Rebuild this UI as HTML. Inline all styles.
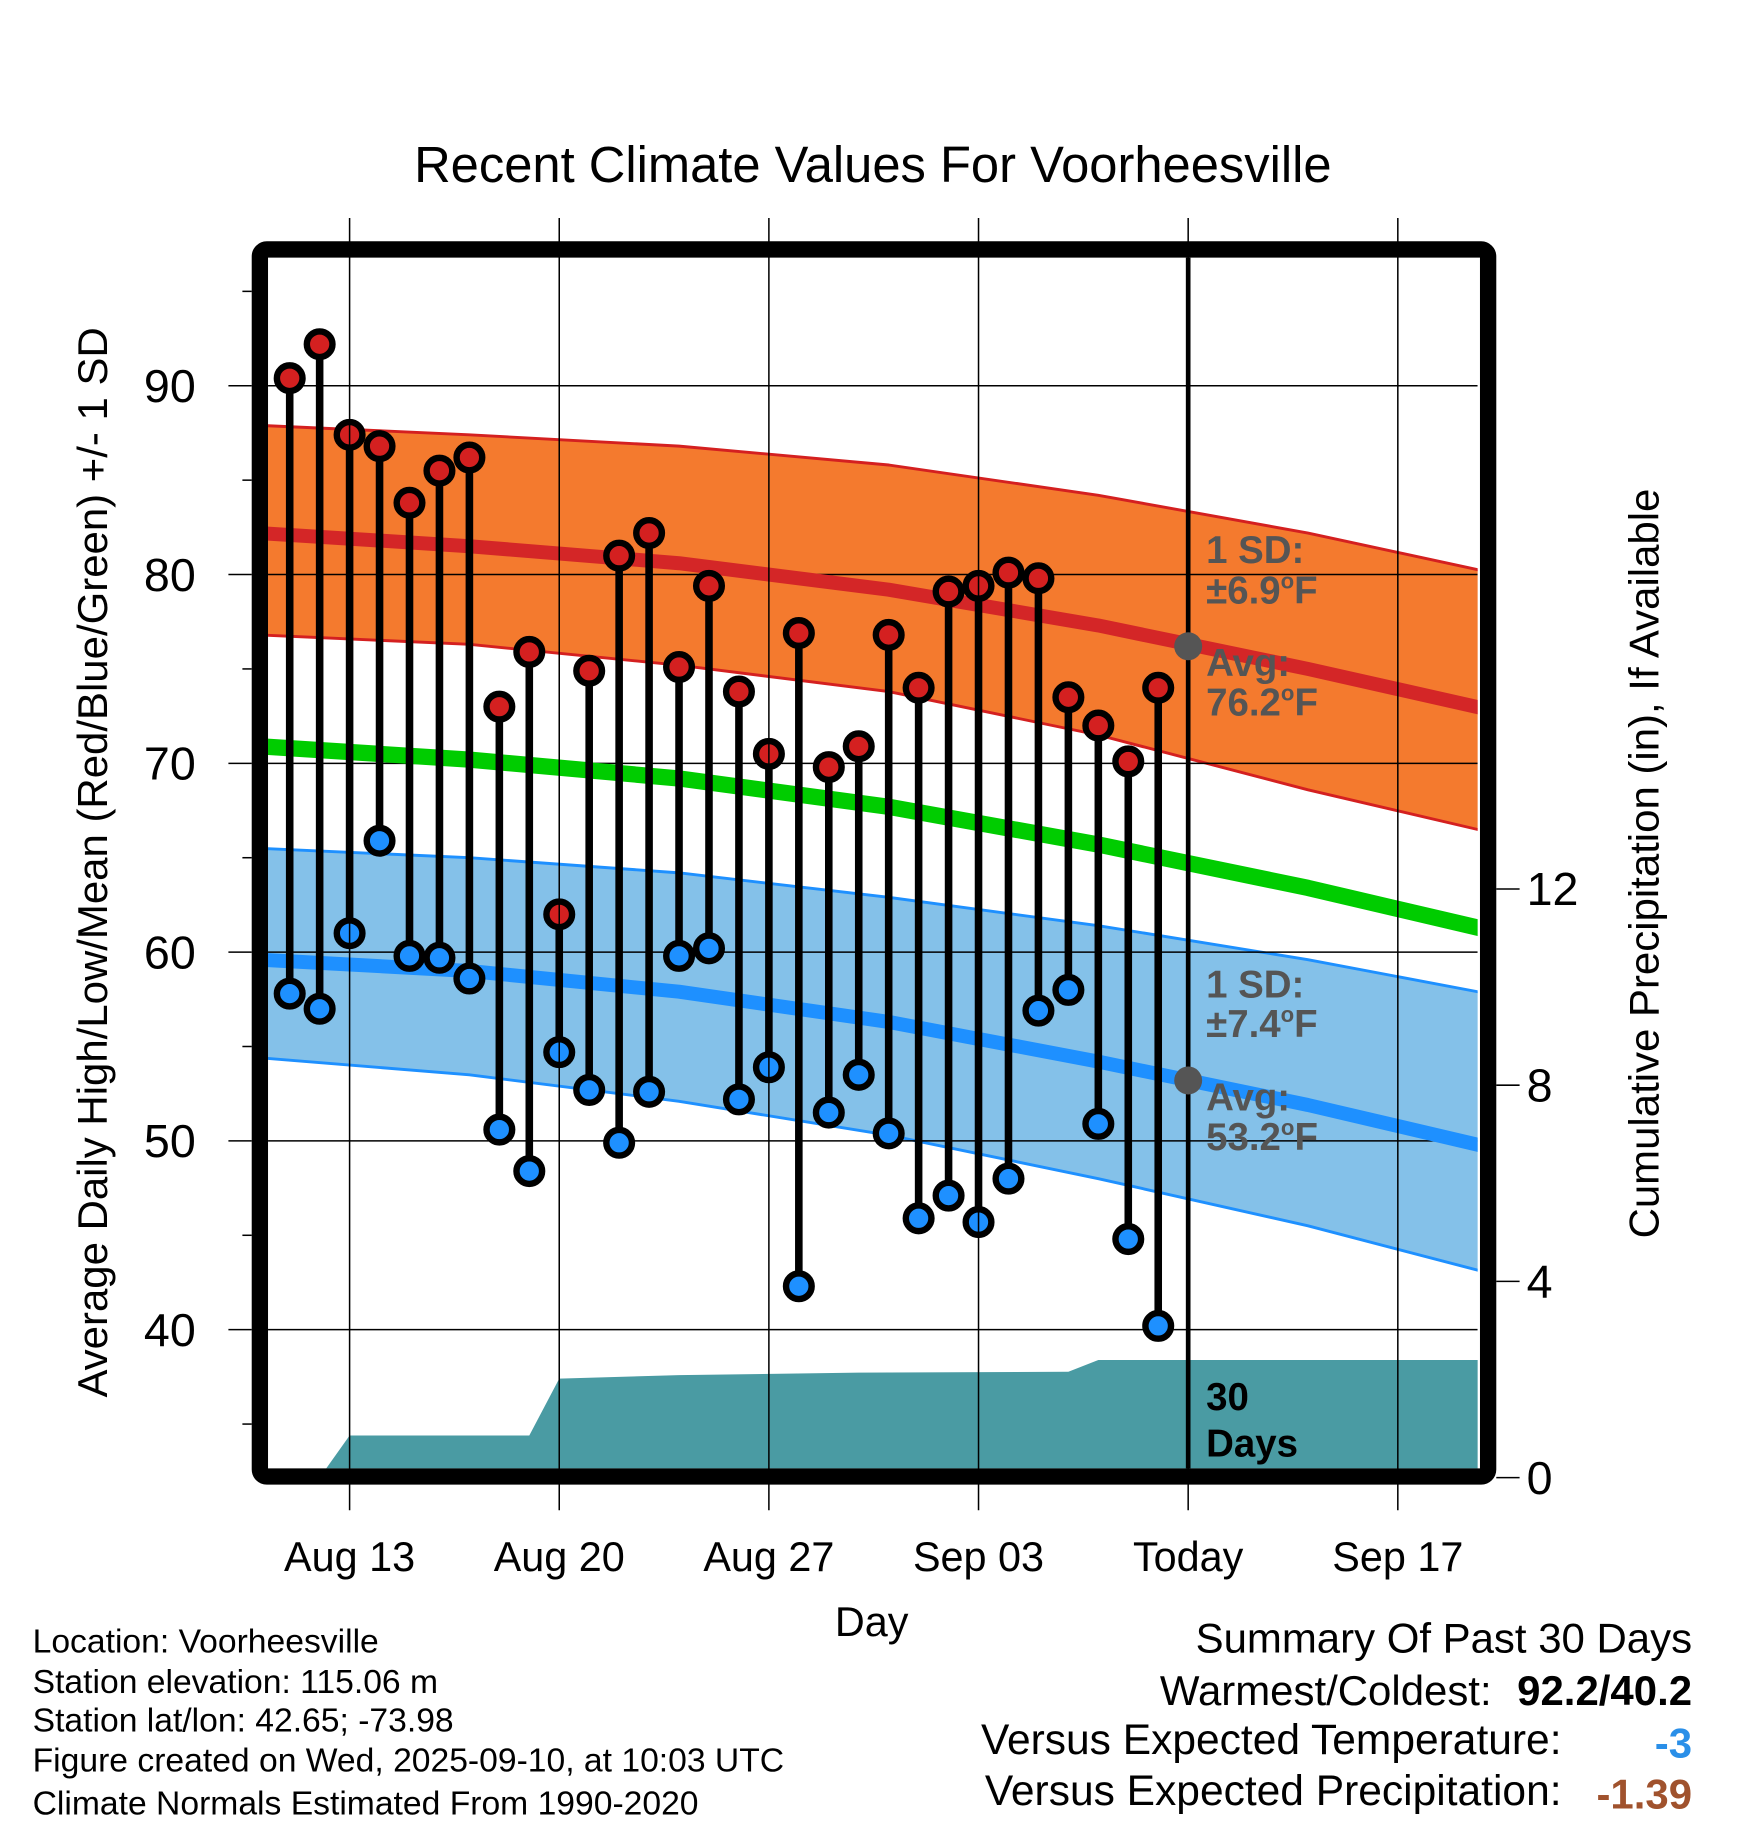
<!DOCTYPE html>
<html><head><meta charset="utf-8"><style>
html,body{margin:0;padding:0;background:#fff;}
svg{display:block;font-family:"Liberation Sans",sans-serif;}
</style></head><body>
<svg id="chart" width="1748" height="1828" viewBox="0 0 1500 1568.6" xmlns="http://www.w3.org/2000/svg">
<g id="layer"></g>
</svg>
<script>
// ---- data ----
const dayLabels = ["Aug 13","Aug 20","Aug 27","Sep 03","Today","Sep 17"];
const dayTicks = [0,7,14,21,28,35]; // days from Aug 13
const obsDays = [-2,-1,0,1,2,3,4,5,6,7,8,9,10,11,12,13,14,15,16,17,18,19,20,21,22,23,24,25,26,27];
const highs = [90.4,92.2,87.4,86.8,83.8,85.5,86.2,73.0,75.9,62.0,74.9,81.0,82.2,75.1,79.4,73.8,70.5,76.9,69.8,70.9,76.8,74.0,79.1,79.4,80.1,79.8,73.5,72.0,70.1,74.0];
const lows = [57.8,57.0,61.0,65.9,59.8,59.7,58.6,50.6,48.4,54.7,52.7,49.9,52.6,59.8,60.2,52.2,53.9,42.3,51.5,53.5,50.4,45.9,47.1,45.7,48.0,56.9,58.0,50.9,44.8,40.2];
const normDays = [-3,4,11,18,25,32,39];
const normHigh = [82.2,81.5,80.6,79.2,77.3,75.0,72.5];
const normHighUp = [87.9,87.4,86.8,85.8,84.2,82.2,79.8];
const normHighLo = [76.8,76.3,75.2,73.8,71.5,68.6,66.0];
const normMean = [70.9,70.2,69.2,67.7,65.7,63.4,60.8];
const normLow = [59.6,59.0,57.9,56.3,54.2,51.9,49.3];
const normLowUp = [65.5,65.0,64.2,62.9,61.4,59.6,57.5];
const normLowLo = [54.4,53.5,52.1,50.3,48.0,45.5,42.6];
const precipDays = [-3,-1.0,0.0,6.0,7.0,11,17,24,25,38.7];
const precipVals = [0,0,0.86,0.86,2.02,2.09,2.14,2.16,2.40,2.40];
const yTicks = [40,50,60,70,80,90];
const pTicks = [0,4,8,12];

// ---- scales ----
const X0=230,X1=1268,Y0=221,Y1=1260;
const x = d => 300 + d*25.7;
const y = v => 493 - (v-80)*16.2;
const py = p => 1268 - p*42.1;

const NS="http://www.w3.org/2000/svg";
const L=document.getElementById('layer');
function mk(tag,attrs,parent){const e=document.createElementNS(NS,tag);for(const k in attrs)e.setAttribute(k,attrs[k]);(parent||L).appendChild(e);return e;}
function txt(s,attrs,parent){const e=mk('text',attrs,parent);e.textContent=s;return e;}

const cp=mk('clipPath',{id:'plotclip'});mk('rect',{x:X0,y:Y0,width:X1-X0,height:Y1-Y0},cp);
const plot=mk('g',{'clip-path':'url(#plotclip)'});

function linePts(days,vals,fy){return days.map((d,i)=>x(d).toFixed(1)+','+fy(vals[i]).toFixed(1));}
function band(up,lo,fill,edge,name){
  const pts=linePts(normDays,up,y).concat(linePts(normDays,lo,y).reverse());
  const p=mk('polygon',{points:pts.join(' '),fill:fill},plot);
  
  
  [up,lo].forEach(a=>{const l=mk('polyline',{points:linePts(normDays,a,y).join(' '),fill:'none',stroke:edge,'stroke-width':2.5},plot);
    
    });
}
band(normHighUp,normHighLo,'#f47a2e','#d42020','high-sd-band');
band(normLowUp,normLowLo,'#84c1e9','#1e90ff','low-sd-band');

// precipitation area
{const pts=[x(precipDays[0])+','+py(0)].concat(linePts(precipDays,precipVals,py)).concat([x(precipDays[precipDays.length-1])+','+py(0)]);
 const a=mk('polygon',{points:pts.join(' '),fill:'#4a9ba3'},plot);
 
 }

// gridlines
yTicks.forEach(v=>{const g=mk('line',{x1:X0,x2:X1,y1:y(v),y2:y(v),stroke:'#000','stroke-width':1.3},plot);
  
  });
dayTicks.forEach(d=>{const g=mk('line',{x1:x(d),x2:x(d),y1:187,y2:1296,stroke:'#000','stroke-width':1.3});
  
  });

// normal lines
function nline(vals,col,w,name){const l=mk('polyline',{points:linePts(normDays,vals,y).join(' '),fill:'none',stroke:col,'stroke-width':w,'stroke-linejoin':'round'},plot);
  
  }
nline(normHigh,'#d42627',12,'normal-high-line');
nline(normMean,'#00cc00',14,'normal-mean-line');
nline(normLow,'#1e90ff',12,'normal-low-line');

// today line
{const t=mk('line',{x1:x(28),x2:x(28),y1:Y0,y2:Y1,stroke:'#000','stroke-width':4});
 
 }

// stems + markers
obsDays.forEach((d,i)=>{
  const s=mk('line',{x1:x(d),x2:x(d),y1:y(highs[i]),y2:y(lows[i]),stroke:'#000','stroke-width':6.5},plot);
  
  
});
obsDays.forEach((d,i)=>{
  const h=mk('circle',{cx:x(d),cy:y(highs[i]),r:11,fill:'#d42020',stroke:'#000','stroke-width':5.5},plot);
  
  
  const l=mk('circle',{cx:x(d),cy:y(lows[i]),r:11,fill:'#1e90ff',stroke:'#000','stroke-width':5.5},plot);
  
  
});

// annotations
function ann(lines,yy,name,size,col){const t=txt('',{x:1035,y:yy,'font-size':size,'font-weight':'bold',fill:col});
  
  
  t.innerHTML=lines;}
const deg='<tspan dy="-13" font-size="19">o</tspan><tspan dy="13">F</tspan>';
ann('1 SD:',483,'high-sd-label',33,'#555');
ann('±6.9'+deg,518,'high-sd-value',33,'#555');
ann('Avg:',580,'high-avg-label',33,'#555');
ann('76.2'+deg,614,'high-avg-value',33,'#555');
ann('1 SD:',856,'low-sd-label',33,'#555');
ann('±7.4'+deg,890,'low-sd-value',33,'#555');
ann('Avg:',953,'low-avg-label',33,'#555');
ann('53.2'+deg,987,'low-avg-value',33,'#555');
{const c=mk('circle',{cx:x(28),cy:y(76.2),r:12,fill:'#555'});
 const c2=mk('circle',{cx:x(28),cy:y(53.2),r:12,fill:'#555'});}
ann('30',1210,'days-label-num',33,'#000');
ann('Days',1250,'days-label-text',33,'#000');

// frame
{const f=mk('rect',{x:223,y:214,width:1054,height:1053,rx:6,fill:'none',stroke:'#000','stroke-width':14});
 }

// left axis
for(let v=35;v<=95;v+=5){
  const major=yTicks.includes(v);
  const t=mk('line',{x1:major?196:208,x2:216,y1:y(v),y2:y(v),stroke:'#000','stroke-width':1.3});
  
}
yTicks.forEach(v=>{const t=txt(String(v),{x:168,y:y(v)+14,'font-size':40,'text-anchor':'end'});
  });
// right axis
pTicks.forEach(p=>{const t=mk('line',{x1:1284,x2:1304,y1:py(p),y2:py(p),stroke:'#000','stroke-width':1.3});
  
  const l=txt(String(p),{x:1310,y:py(p)+14,'font-size':40});
  });
// x labels
dayTicks.forEach((d,i)=>{const t=txt(dayLabels[i],{x:x(d),y:1348,'font-size':35.5,'text-anchor':'middle'});
  });

// titles
function T(s,a,name){const t=txt(s,a);return t;}
T('Recent Climate Values For Voorheesville',{x:749,y:156,'font-size':43.5,'text-anchor':'middle'},'chart-title');
T('Average Daily High/Low/Mean (Red/Blue/Green) +/- 1 SD',{x:0,y:0,'font-size':36,'text-anchor':'middle',transform:'translate(92,740) rotate(-90)'},'y-axis-title');
T('Cumulative Precipitation (in), If Available',{x:0,y:0,'font-size':36,'text-anchor':'middle',transform:'translate(1423,741) rotate(-90)'},'precip-axis-title');
T('Day',{x:748,y:1404,'font-size':35.5,'text-anchor':'middle'},'x-axis-title');

const info=['Location: Voorheesville','Station elevation: 115.06 m','Station lat/lon: 42.65; -73.98','Figure created on Wed, 2025-09-10, at 10:03 UTC','Climate Normals Estimated From 1990-2020'];
const infoY=[1418,1453,1486,1520,1557];
info.forEach((s,i)=>T(s,{x:28,y:infoY[i],'font-size':28.9},'station-info-line'));

T('Summary Of Past 30 Days',{x:1452,y:1418,'font-size':36,'text-anchor':'end'},'summary-title');
T('Warmest/Coldest:',{x:1280,y:1463,'font-size':36,'text-anchor':'end'},'warmest-coldest-label');
T('92.2/40.2',{x:1452,y:1463,'font-size':36,'font-weight':'bold','text-anchor':'end'},'warmest-coldest-value');
T('Versus Expected Temperature:',{x:1340,y:1505,'font-size':36.5,'text-anchor':'end'},'temp-anomaly-label');
T('-3',{x:1452,y:1508,'font-size':36,'font-weight':'bold','text-anchor':'end',fill:'#2a8fe8'},'temp-anomaly-value');
T('Versus Expected Precipitation:',{x:1340,y:1549,'font-size':36.5,'text-anchor':'end'},'precip-anomaly-label');
T('-1.39',{x:1452,y:1552,'font-size':36,'font-weight':'bold','text-anchor':'end',fill:'#a0522d'},'precip-anomaly-value');
</script>
</body></html>
